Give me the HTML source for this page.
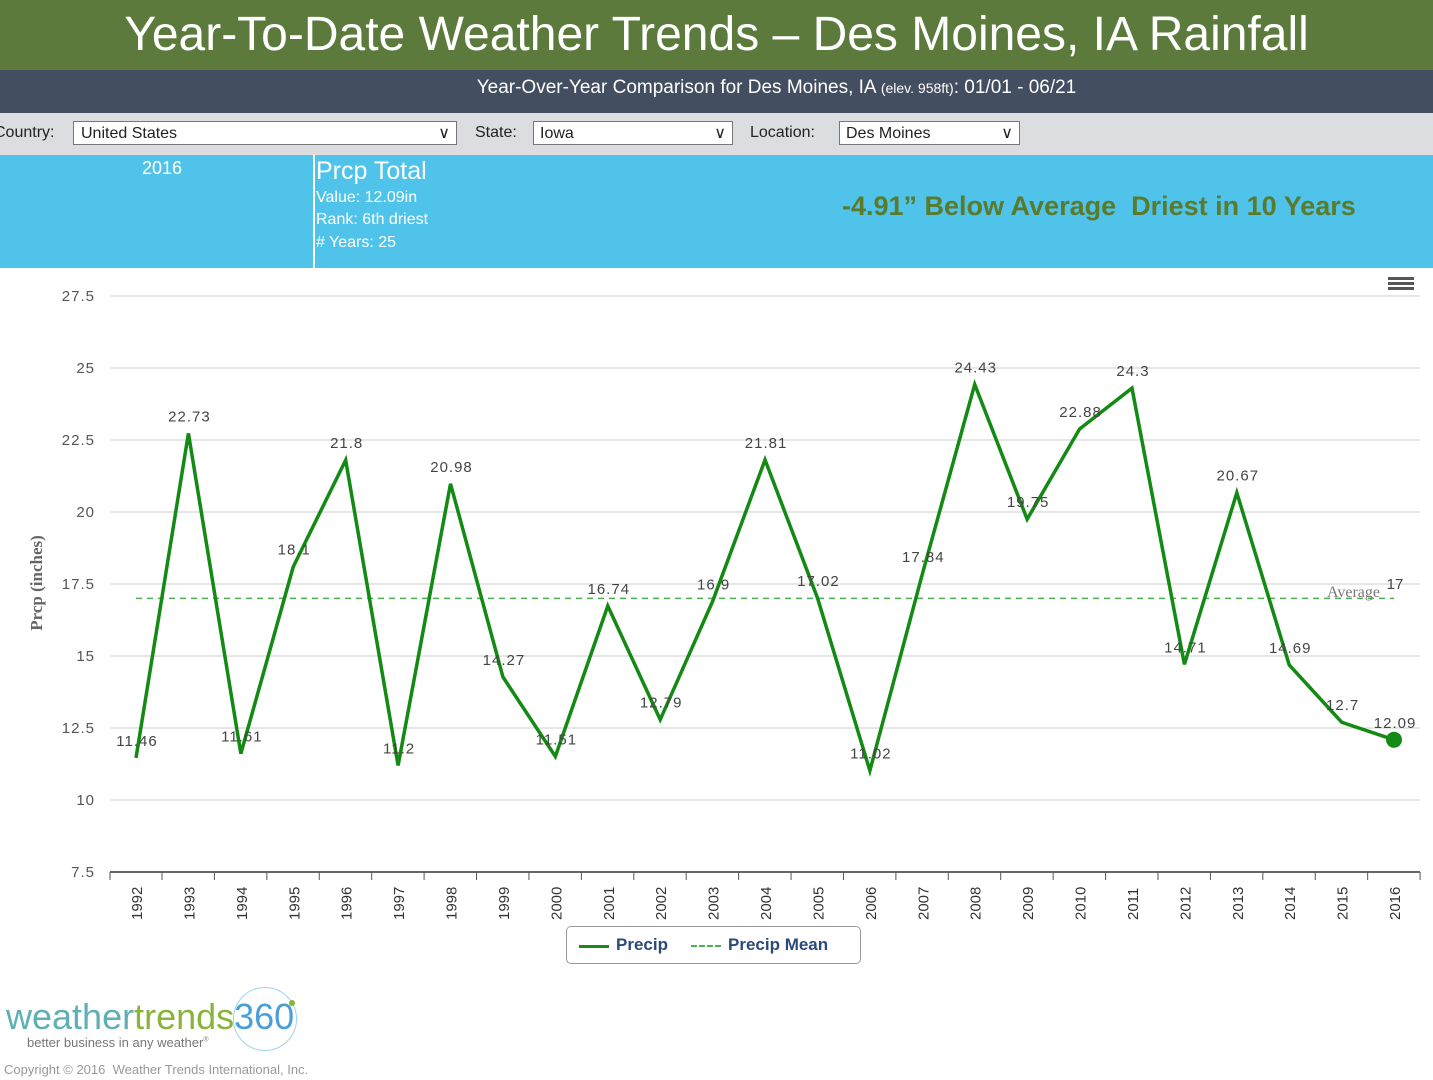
<!DOCTYPE html>
<html><head><meta charset="utf-8"><style>
body{margin:0;width:1433px;height:1080px;overflow:hidden;background:#fff;font-family:"Liberation Sans","DejaVu Sans",sans-serif;position:relative}
.abs{position:absolute}
</style></head><body>
<div class="abs" style="left:0;top:0;width:1433px;height:70px;background:#5b7a3c;color:#fff;font-size:48px;text-align:center;line-height:70px">Year-To-Date Weather Trends – Des Moines, IA Rainfall</div>
<div class="abs" style="left:0;top:70px;width:1433px;height:43px;background:#434e60;color:#fff;font-size:19px;text-align:center;line-height:36px;padding-left:120px;box-sizing:border-box">Year-Over-Year Comparison for Des Moines, IA <span style="font-size:14px">(elev. 958ft)</span>: 01/01 - 06/21</div>
<div class="abs" style="left:0;top:113px;width:1433px;height:42px;background:#dcdde1;font-size:16px;color:#222">
 <span class="abs" style="left:-6px;top:11px">Country:</span>
 <div class="abs" style="left:73px;top:8px;width:384px;height:24px;background:#fff;border:1px solid #777;line-height:24px;padding-left:7px;box-sizing:border-box">United States<span class="abs" style="right:6px;top:0">&#x2228;</span></div>
 <span class="abs" style="left:475px;top:11px">State:</span>
 <div class="abs" style="left:533px;top:8px;width:200px;height:24px;background:#fff;border:1px solid #777;line-height:24px;padding-left:6px;box-sizing:border-box">Iowa<span class="abs" style="right:6px;top:0">&#x2228;</span></div>
 <span class="abs" style="left:750px;top:11px">Location:</span>
 <div class="abs" style="left:839px;top:8px;width:181px;height:24px;background:#fff;border:1px solid #777;line-height:24px;padding-left:6px;box-sizing:border-box">Des Moines<span class="abs" style="right:6px;top:0">&#x2228;</span></div>
</div>
<div class="abs" style="left:0;top:155px;width:1433px;height:113px;background:#4fc3ea;color:#fff">
 <span class="abs" style="left:142px;top:3px;font-size:18px">2016</span>
 <div class="abs" style="left:313px;top:0;width:2px;height:113px;background:#fff"></div>
 <span class="abs" style="left:316px;top:2px;font-size:25px">Prcp Total</span>
 <span class="abs" style="left:316px;top:34px;font-size:16px">Value: 12.09in</span>
 <span class="abs" style="left:316px;top:56px;font-size:16px">Rank: 6th driest</span>
 <span class="abs" style="left:316px;top:79px;font-size:16px"># Years: 25</span>
 <span class="abs" style="left:842px;top:36px;font-size:27px;font-weight:bold;color:#5a7a2c">-4.91” Below Average&nbsp; Driest in 10 Years</span>
</div>
<svg class="abs" style="left:0;top:0" width="1433" height="1080" id="s"></svg>
<div class="abs" style="left:1388px;top:277px;width:26px;height:3px;background:#555;box-shadow:0 5px 0 #555,0 10px 0 #555"></div>
<div class="abs" style="left:566px;top:926px;width:295px;height:38px;border:1px solid #999;border-radius:5px;box-sizing:border-box;font-size:17px;font-weight:bold;color:#2a4a7a">
 <div class="abs" style="left:12px;top:18px;width:30px;height:3px;background:#1a8a1a"></div>
 <span class="abs" style="left:49px;top:8px">Precip</span>
 <div class="abs" style="left:124px;top:18px;width:30px;border-top:2px dashed #4caf50"></div>
 <span class="abs" style="left:161px;top:8px">Precip Mean</span>
</div>
<div class="abs" style="left:6px;top:996px;font-size:36px;letter-spacing:0px"><span style="color:#5fb0b4">weather</span><span style="color:#8ab33c">trends</span><span style="color:#4a9fd8">360</span></div>
<div class="abs" style="left:233px;top:987px;width:62px;height:62px;border:1px solid #9fd3e6;border-radius:50%"></div>
<div class="abs" style="left:289px;top:1000px;width:6px;height:6px;background:#8ab33c;border-radius:50%"></div>
<div class="abs" style="left:27px;top:1035px;font-size:13px;color:#777">better business in any weather<sup style="font-size:7px">®</sup></div>
<div class="abs" style="left:4px;top:1062px;font-size:13px;color:#999">Copyright © 2016&nbsp; Weather Trends International, Inc.</div>
<script>
var v=[11.46,22.73,11.61,18.1,21.8,11.2,20.98,14.27,11.51,16.74,12.79,16.9,21.81,17.02,11.02,17.84,24.43,19.75,22.88,24.3,14.71,20.67,14.69,12.7,12.09];
function Y(a){return 872-(a-7.5)*28.8}function X(i){return 136+52.42*i}
var h='';
for(var t=7.5;t<=27.5;t+=2.5){var y=Y(t);if(t>7.5)h+='<line x1="110" x2="1420" y1="'+y+'" y2="'+y+'" stroke="#ccc"/>';h+='<text x="95" y="'+(y+5)+'" text-anchor="end" font-size="15" fill="#555" letter-spacing="1">'+t+'</text>';}
h+='<line x1="110" x2="1420" y1="872" y2="872" stroke="#333" stroke-width="1.5"/>';
for(var i=0;i<25;i++){var x=X(i)+26;h+='<line x1="'+x+'" x2="'+x+'" y1="872" y2="880" stroke="#555"/>';h+='<text transform="translate('+(X(i)+6)+',920) rotate(-90)" font-size="15" fill="#333">'+(1992+i)+'</text>';}
h+='<line x1="110" x2="110" y1="872" y2="880" stroke="#555"/>';
h+='<line x1="136" x2="1394" y1="'+Y(17)+'" y2="'+Y(17)+'" stroke="#4caf50" stroke-width="1.5" stroke-dasharray="6,5"/>';
var p='';for(i=0;i<25;i++)p+=X(i)+','+Y(v[i])+' ';
h+='<polyline points="'+p+'" fill="none" stroke="#138a13" stroke-width="3.5" stroke-linejoin="miter"/>';
h+='<circle cx="1394" cy="'+Y(12.09)+'" r="8" fill="#138a13"/>';
for(i=0;i<25;i++)h+='<text x="'+(X(i)+1)+'" y="'+(Y(v[i])-12)+'" text-anchor="middle" font-size="15" fill="#444" letter-spacing="1">'+v[i]+'</text>';
h+='<text x="1380" y="597" text-anchor="end" font-size="16" fill="#777" font-family="Liberation Serif,serif">Average</text><text x="1395" y="589" text-anchor="middle" font-size="15" fill="#444">17</text>';
h+='<text transform="translate(42,583) rotate(-90)" text-anchor="middle" font-size="17" font-weight="bold" fill="#666" font-family="Liberation Serif,serif">Prcp (inches)</text>';
document.getElementById('s').innerHTML=h;
</script>
</body></html>
